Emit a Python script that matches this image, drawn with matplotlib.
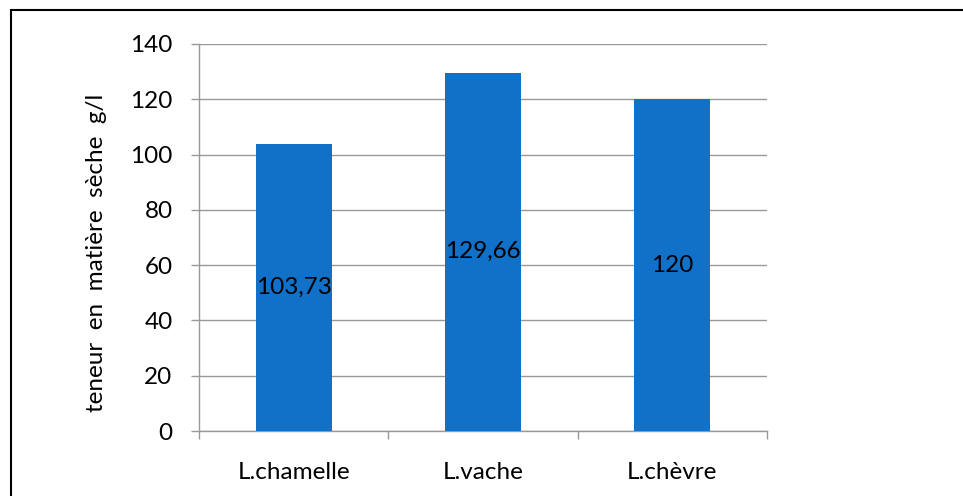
import matplotlib.pyplot as plt
from matplotlib.patches import Rectangle

categories = ['L.chamelle', 'L.vache', 'L.chèvre']
values = [103.73, 129.66, 120]
labels = ['103,73', '129,66', '120']

plt.rcParams['font.family'] = ['Lato', 'DejaVu Sans']

fig = plt.figure(figsize=(9.63, 4.96), dpi=100)
ax = fig.add_axes([199 / 963, 1 - 431 / 496, 568 / 963, 387 / 496])

grid_color = '#999999'
bar_color = '#1170C8'
fs = 17.5

x = list(range(len(categories)))
bars = ax.bar(x, values, width=0.4, color=bar_color, zorder=3)

for xi, v, lab in zip(x, values, labels):
    ax.text(xi, v / 2, lab, ha='center', va='center', fontsize=fs, color='black', zorder=4)

ax.set_xlim(-0.5, 2.5)
ax.set_ylim(0, 140)
ax.set_yticks(range(0, 141, 20))
ax.yaxis.grid(True, color=grid_color, linewidth=1, zorder=0)

ax.set_xticks(x)
ax.set_xticklabels(categories)
ax.set_xticks([-0.5, 0.5, 1.5, 2.5], minor=True)
ax.tick_params(axis='x', which='major', length=0, pad=22, labelsize=fs)
ax.tick_params(axis='x', which='minor', length=6, color=grid_color, width=1)
ax.tick_params(axis='y', length=6, color=grid_color, width=1, labelsize=fs, pad=13)

for side in ['top', 'right']:
    ax.spines[side].set_visible(False)
for side in ['left', 'bottom']:
    ax.spines[side].set_color(grid_color)
    ax.spines[side].set_linewidth(1)

ax.set_ylabel('teneur  en  matière  sèche  g/l', fontsize=fs)
ax.yaxis.set_label_coords(-92 / 568, 0.46)

# outer frame around the chart (extends past the right and bottom edges)
frame = Rectangle((11 / 963, -0.1), 1.1, 0.98 + 0.1, transform=fig.transFigure,
                  fill=False, edgecolor='black', linewidth=1.5, clip_on=False)
fig.patches.append(frame)

fig.savefig('out.png', dpi=100, facecolor='white')
